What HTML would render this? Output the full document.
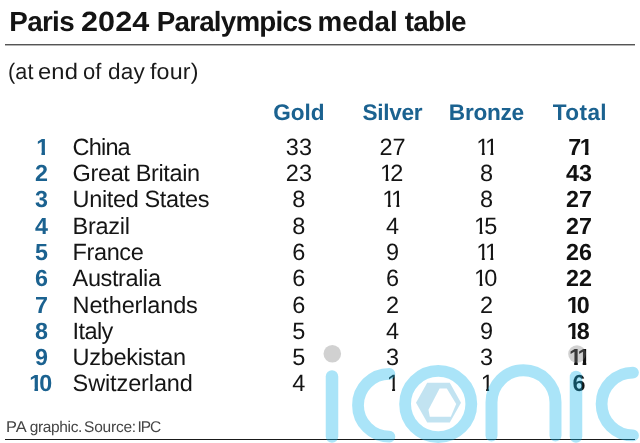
<!DOCTYPE html>
<html><head><meta charset="utf-8"><style>
html,body{margin:0;padding:0;background:#fff;}
body{width:640px;height:443px;position:relative;overflow:hidden;font-family:"Liberation Sans",Arial,sans-serif;text-rendering:geometricPrecision;}
.t{position:absolute;white-space:nowrap;line-height:1;}
.c{position:absolute;white-space:nowrap;line-height:1;width:100px;text-align:center;}
.rk{color:#1b6290;font-weight:bold;font-size:23.3px;}
.hd{color:#1b6290;font-weight:bold;font-size:22.6px;letter-spacing:0px;}
.nm{color:#151515;font-size:23.5px;letter-spacing:0px;}
.dg{color:#151515;font-size:23.5px;letter-spacing:0px;}
.tot{font-weight:bold;color:#111;font-size:23.3px;letter-spacing:0px;}
.o1r,.o1b{display:inline-block;line-height:1em;margin-left:-0.068em;margin-right:-0.125em;}
.o1r{clip-path:polygon(0 0,100% 0,100% 0.705em,0.36em 0.705em,0.36em 1.2em,0.232em 1.2em,0.232em 0.705em,0 0.705em);}
.o1b{clip-path:polygon(0 0,100% 0,100% 0.68em,0.38em 0.68em,0.38em 1.2em,0.225em 1.2em,0.225em 0.68em,0 0.68em);}
</style></head><body>

<div class="t" id="tw_Paris" style="left:9.27px;top:7.77px;font-size:27.8px;font-weight:bold;color:#141414;letter-spacing:-0.665px">Paris</div>
<div class="t" id="tw_2024" style="left:80.76px;top:7.77px;font-size:27.8px;font-weight:bold;color:#141414;letter-spacing:0.079px;transform:scaleX(1.1);transform-origin:0 0">2024</div>
<div class="t" id="tw_Paralympics" style="left:156.84px;top:7.77px;font-size:27.8px;font-weight:bold;color:#141414;letter-spacing:-0.813px">Paralympics</div>
<div class="t" id="tw_medal" style="left:317.60px;top:7.77px;font-size:27.8px;font-weight:bold;color:#141414;letter-spacing:-0.044px">medal</div>
<div class="t" id="tw_table" style="left:404.79px;top:7.77px;font-size:27.8px;font-weight:bold;color:#141414;letter-spacing:-0.782px">table</div>
<div style="position:absolute;left:5px;top:44px;width:630px;height:1px;background:#555"></div>
<div style="position:absolute;left:5px;top:45px;width:630px;height:1px;background:#b5b5b5"></div>
<div class="t" style="left:7.98px;top:61.34px;font-size:22.4px;color:#1a1a1a;letter-spacing:0.150px;transform:scaleX(0.9626);transform-origin:0 0">(at</div>
<div class="t" style="left:38.49px;top:61.34px;font-size:22.4px;color:#1a1a1a;letter-spacing:0.150px;transform:scaleX(1.0603);transform-origin:0 0">end</div>
<div class="t" style="left:82.70px;top:61.34px;font-size:22.4px;color:#1a1a1a;letter-spacing:0.150px;transform:scaleX(0.9817);transform-origin:0 0">of</div>
<div class="t" style="left:108.26px;top:61.34px;font-size:22.4px;color:#1a1a1a;letter-spacing:0.150px;transform:scaleX(1.0075);transform-origin:0 0">day</div>
<div class="t" style="left:149.84px;top:61.34px;font-size:22.4px;color:#1a1a1a;letter-spacing:0.150px;transform:scaleX(1.0380);transform-origin:0 0">four)</div>
<div class="c hd" style="left:248.9px;top:101.87px;letter-spacing:-0.1px;text-indent:-0.1px">Gold</div>
<div class="c hd" style="left:342.5px;top:101.87px;letter-spacing:-0.27px;text-indent:-0.27px">Silver</div>
<div class="c hd" style="left:436.5px;top:101.87px;letter-spacing:-0.24px;text-indent:-0.24px">Bronze</div>
<div class="c hd" style="left:529.0px;top:101.87px;letter-spacing:0.37px;text-indent:1.87px">Total</div>
<div class="c rk" style="left:-8.0px;top:135.58px"><span class="o1b">1</span></div>
<div class="t nm" style="left:72.6px;top:135.96px;letter-spacing:-0.825px">China</div>
<div class="c dg" style="left:248.9px;top:135.96px">33</div>
<div class="c dg" style="left:342.5px;top:135.96px">27</div>
<div class="c dg" style="left:436.5px;top:135.96px"><span class="o1r">1</span><span class="o1r">1</span></div>
<div class="c tot" style="left:529.0px;top:135.58px">7<span class="o1b">1</span></div>
<div class="c rk" style="left:-8.5px;top:161.58px">2</div>
<div class="t nm" style="left:72.6px;top:161.96px;letter-spacing:-0.367px">Great Britain</div>
<div class="c dg" style="left:248.9px;top:161.96px">23</div>
<div class="c dg" style="left:342.5px;top:161.96px"><span class="o1r">1</span>2</div>
<div class="c dg" style="left:436.5px;top:161.96px">8</div>
<div class="c tot" style="left:529.0px;top:161.58px">43</div>
<div class="c rk" style="left:-8.5px;top:187.58px">3</div>
<div class="t nm" style="left:72.6px;top:187.96px;letter-spacing:-0.358px">United States</div>
<div class="c dg" style="left:248.9px;top:187.96px">8</div>
<div class="c dg" style="left:342.5px;top:187.96px"><span class="o1r">1</span><span class="o1r">1</span></div>
<div class="c dg" style="left:436.5px;top:187.96px">8</div>
<div class="c tot" style="left:529.0px;top:187.58px">27</div>
<div class="c rk" style="left:-8.5px;top:214.58px">4</div>
<div class="t nm" style="left:72.6px;top:214.96px;letter-spacing:-0.280px">Brazil</div>
<div class="c dg" style="left:248.9px;top:214.96px">8</div>
<div class="c dg" style="left:342.5px;top:214.96px">4</div>
<div class="c dg" style="left:436.5px;top:214.96px"><span class="o1r">1</span>5</div>
<div class="c tot" style="left:529.0px;top:214.58px">27</div>
<div class="c rk" style="left:-8.5px;top:240.58px">5</div>
<div class="t nm" style="left:72.6px;top:240.96px;letter-spacing:-0.400px">France</div>
<div class="c dg" style="left:248.9px;top:240.96px">6</div>
<div class="c dg" style="left:342.5px;top:240.96px">9</div>
<div class="c dg" style="left:436.5px;top:240.96px"><span class="o1r">1</span><span class="o1r">1</span></div>
<div class="c tot" style="left:529.0px;top:240.58px">26</div>
<div class="c rk" style="left:-8.5px;top:266.58px">6</div>
<div class="t nm" style="left:72.6px;top:266.96px;letter-spacing:-0.375px">Australia</div>
<div class="c dg" style="left:248.9px;top:266.96px">6</div>
<div class="c dg" style="left:342.5px;top:266.96px">6</div>
<div class="c dg" style="left:436.5px;top:266.96px"><span class="o1r">1</span>0</div>
<div class="c tot" style="left:529.0px;top:266.58px">22</div>
<div class="c rk" style="left:-8.5px;top:293.58px">7</div>
<div class="t nm" style="left:72.6px;top:293.96px;letter-spacing:-0.150px">Netherlands</div>
<div class="c dg" style="left:248.9px;top:293.96px">6</div>
<div class="c dg" style="left:342.5px;top:293.96px">2</div>
<div class="c dg" style="left:436.5px;top:293.96px">2</div>
<div class="c tot" style="left:529.0px;top:293.58px"><span class="o1b">1</span>0</div>
<div class="c rk" style="left:-8.5px;top:319.58px">8</div>
<div class="t nm" style="left:72.6px;top:319.96px;letter-spacing:-0.600px">Italy</div>
<div class="c dg" style="left:248.9px;top:319.96px">5</div>
<div class="c dg" style="left:342.5px;top:319.96px">4</div>
<div class="c dg" style="left:436.5px;top:319.96px">9</div>
<div class="c tot" style="left:529.0px;top:319.58px"><span class="o1b">1</span>8</div>
<div class="c rk" style="left:-8.5px;top:345.58px">9</div>
<div class="t nm" style="left:72.6px;top:345.96px;letter-spacing:-0.300px">Uzbekistan</div>
<div class="c dg" style="left:248.9px;top:345.96px">5</div>
<div class="c dg" style="left:342.5px;top:345.96px">3</div>
<div class="c dg" style="left:436.5px;top:345.96px">3</div>
<div class="c tot" style="left:529.0px;top:345.58px"><span class="o1b">1</span><span class="o1b">1</span></div>
<div class="c rk" style="left:-8.5px;top:371.58px"><span class="o1b">1</span>0</div>
<div class="t nm" style="left:72.6px;top:371.96px;letter-spacing:-0.120px">Switzerland</div>
<div class="c dg" style="left:248.9px;top:371.96px">4</div>
<div class="c dg" style="left:342.5px;top:371.96px"><span class="o1r">1</span></div>
<div class="c dg" style="left:436.5px;top:371.96px"><span class="o1r">1</span></div>
<div class="c tot" style="left:529.0px;top:371.58px">6</div>
<div class="t" style="left:6.35px;top:420.08px;font-size:15.5px;color:#454545;letter-spacing:0.000px;transform:scaleX(1.0592);transform-origin:0 0">PA</div>
<div class="t" style="left:29.80px;top:420.08px;font-size:15.5px;color:#454545;letter-spacing:-0.370px">graphic.</div>
<div class="t" style="left:84.11px;top:420.08px;font-size:15.5px;color:#454545;letter-spacing:-0.237px">Source:</div>
<div class="t" style="left:137.60px;top:420.08px;font-size:15.5px;color:#454545;letter-spacing:-1.128px">IPC</div>
<div style="position:absolute;left:5px;top:439px;width:630px;height:1px;background:#1a1a1a"></div>
<svg style="position:absolute;left:0;top:0" width="640" height="443" viewBox="0 0 640 443">
<g opacity="0.36" fill="none" stroke="rgb(22,183,236)">
<circle cx="332.3" cy="353.8" r="8.8" fill="rgb(130,130,130)" stroke="none"/>
<path d="M332,436.5 V376.5" stroke-width="12.5" stroke-linecap="round"/>
<path d="M389.4,373.8 A31.4,31.4 0 0 0 389.4,436.6" stroke-width="11.8" stroke-linecap="round"/>
<circle cx="438.2" cy="404" r="33.1" stroke-width="11.8"/>
<path fill-rule="evenodd" stroke="none" fill="rgb(88,180,219)" d="M416,402.7 L427.2,382.8 L449.8,382.8 L461,402.7 L449.8,422.6 L427.2,422.6 Z M439.6,388.4 L446.8,388.4 L456.2,404 L450.8,416.8 L429.8,416.8 L428.5,409.7 Z"/>
<path d="M491.5,435.5 V402.3 A32,32 0 0 1 555.5,402.3 V435.5" stroke-width="12" stroke-linecap="round"/>
<circle cx="577" cy="354" r="8.8" fill="rgb(130,130,130)" stroke="none"/>
<path d="M576,436.5 V377" stroke-width="12.5" stroke-linecap="round"/>
<path d="M633,372.6 A31.4,31.4 0 0 0 633,435.4" stroke-width="11.8" stroke-linecap="round"/>
</g></svg>
</body></html>
